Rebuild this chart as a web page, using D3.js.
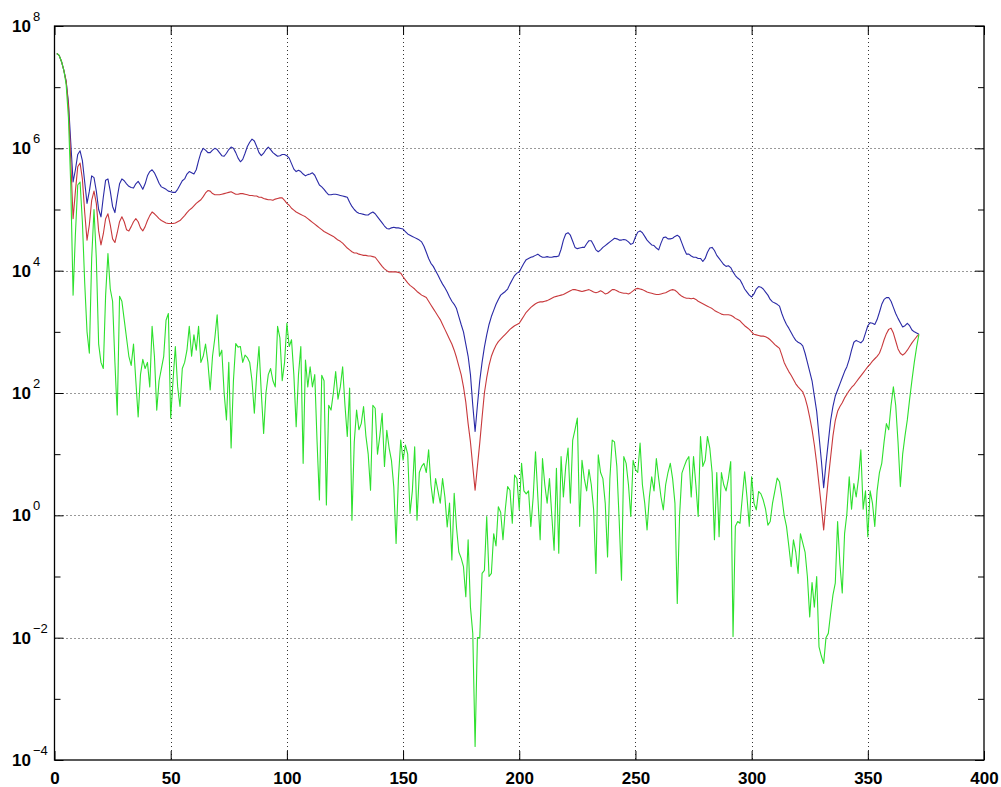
<!DOCTYPE html>
<html>
<head>
<meta charset="utf-8">
<script src="https://cdn.jsdelivr.net/npm/d3@7"></script>
<style>
  body { margin: 0; background: #fff; }
  text { font-family: "Liberation Sans", Arial, sans-serif; }
</style>
</head>
<body>
<div id="chart"></div>
<script>
var W = 1001, H = 787;

// tick values
var xTicks = [0, 50, 100, 150, 200, 250, 300, 350, 400];
var yDecades = [-4, -3, -2, -1, 0, 1, 2, 3, 4, 5, 6, 7, 8];
var yLabelled = [-4, -2, 0, 2, 4, 6, 8];

// series, as log10 of the value, one point per sample (x = 1, 2, 3 ...)
var blueExp = [
  7.55,7.52,7.42,7.28,7.1,6.75,6.1,5.45,5.65,5.9,
  5.96,5.8,5.45,5.1,5.3,5.55,5.52,5.3,5.0,4.88,
  5.2,5.48,5.5,5.3,5.05,4.95,5.2,5.42,5.5,5.47,
  5.42,5.38,5.36,5.35,5.42,5.46,5.4,5.33,5.42,5.55,
  5.62,5.65,5.6,5.52,5.43,5.37,5.35,5.33,5.3,5.29,
  5.28,5.28,5.33,5.4,5.47,5.5,5.58,5.62,5.6,5.58,
  5.65,5.8,5.93,6.0,5.97,5.93,5.93,5.97,6.0,5.98,
  5.93,5.88,5.87,5.92,5.98,6.02,6.0,5.93,5.84,5.78,
  5.82,5.92,6.03,6.1,6.15,6.12,6.03,5.93,5.88,5.92,
  5.98,6.02,5.98,5.93,5.9,5.87,5.88,5.9,5.9,5.88,
  5.84,5.75,5.66,5.62,5.64,5.62,5.58,5.55,5.57,5.58,
  5.6,5.56,5.48,5.4,5.37,5.33,5.28,5.24,5.24,5.25,
  5.25,5.24,5.23,5.22,5.21,5.2,5.12,5.05,5.0,4.96,
  4.94,4.93,4.92,4.91,4.91,4.94,4.96,4.93,4.88,4.83,
  4.78,4.73,4.69,4.68,4.7,4.71,4.7,4.7,4.69,4.68,
  4.64,4.6,4.58,4.56,4.54,4.52,4.5,4.47,4.4,4.3,
  4.2,4.12,4.07,4.0,3.93,3.85,3.78,3.72,3.65,3.57,
  3.5,3.45,3.38,3.25,3.12,3.0,2.8,2.6,2.3,1.8,
  1.37,1.8,2.2,2.5,2.75,2.95,3.12,3.25,3.35,3.45,
  3.53,3.6,3.63,3.66,3.7,3.78,3.85,3.92,3.96,3.98,
  4.05,4.12,4.18,4.2,4.22,4.23,4.25,4.27,4.24,4.22,
  4.22,4.23,4.22,4.22,4.23,4.23,4.24,4.35,4.5,4.6,
  4.62,4.58,4.48,4.38,4.36,4.37,4.38,4.38,4.44,4.49,
  4.49,4.42,4.34,4.31,4.34,4.38,4.41,4.44,4.47,4.5,
  4.53,4.52,4.5,4.5,4.51,4.5,4.47,4.43,4.45,4.55,
  4.63,4.65,4.62,4.56,4.5,4.46,4.42,4.41,4.37,4.34,
  4.45,4.54,4.55,4.52,4.52,4.53,4.56,4.58,4.55,4.45,
  4.35,4.27,4.27,4.24,4.22,4.22,4.2,4.2,4.15,4.2,
  4.3,4.37,4.38,4.33,4.25,4.2,4.15,4.1,4.07,4.08,
  4.05,3.98,3.92,3.88,3.85,3.78,3.7,3.65,3.6,3.57,
  3.62,3.7,3.74,3.73,3.7,3.65,3.6,3.53,3.49,3.47,
  3.45,3.42,3.3,3.2,3.12,3.06,2.99,2.92,2.86,2.83,
  2.81,2.77,2.65,2.5,2.35,2.2,1.95,1.7,1.3,0.9,
  0.45,0.85,1.2,1.55,1.78,1.95,2.05,2.15,2.25,2.35,
  2.43,2.55,2.7,2.83,2.86,2.84,2.82,2.86,2.98,3.1,
  3.15,3.14,3.12,3.2,3.32,3.45,3.53,3.56,3.56,3.5,
  3.4,3.3,3.22,3.15,3.08,3.1,3.14,3.1,3.03,3.0,
  2.98,2.96
];

var redExp = [
  7.55,7.52,7.42,7.28,7.1,6.7,5.8,4.85,5.3,5.7,
  5.76,5.5,4.95,4.5,4.75,5.15,5.3,5.1,4.65,4.42,
  4.6,4.85,4.93,4.75,4.52,4.46,4.62,4.8,4.88,4.8,
  4.67,4.65,4.72,4.8,4.85,4.8,4.7,4.65,4.72,4.82,
  4.9,4.96,4.93,4.89,4.85,4.82,4.8,4.78,4.77,4.77,
  4.77,4.78,4.8,4.82,4.86,4.9,4.95,4.99,5.02,5.06,
  5.1,5.13,5.16,5.21,5.27,5.31,5.3,5.26,5.24,5.24,
  5.24,5.25,5.26,5.27,5.28,5.29,5.27,5.25,5.25,5.26,
  5.26,5.25,5.24,5.23,5.23,5.22,5.22,5.2,5.2,5.18,
  5.17,5.16,5.16,5.15,5.17,5.18,5.19,5.19,5.15,5.1,
  5.07,5.02,4.99,4.96,4.94,4.92,4.9,4.88,4.85,4.82,
  4.79,4.76,4.73,4.7,4.67,4.64,4.62,4.6,4.58,4.56,
  4.53,4.5,4.48,4.45,4.41,4.37,4.34,4.31,4.29,4.29,
  4.27,4.26,4.25,4.25,4.24,4.24,4.23,4.22,4.17,4.12,
  4.07,4.03,4.0,3.98,3.98,3.98,3.98,3.97,3.96,3.9,
  3.85,3.8,3.76,3.73,3.7,3.66,3.63,3.6,3.58,3.56,
  3.5,3.44,3.38,3.32,3.26,3.2,3.12,3.04,2.96,2.88,
  2.8,2.7,2.58,2.44,2.3,2.1,1.85,1.5,1.2,0.8,
  0.41,0.8,1.18,1.6,2.0,2.25,2.45,2.6,2.7,2.78,
  2.84,2.88,2.92,2.96,3.0,3.04,3.07,3.1,3.12,3.14,
  3.2,3.26,3.32,3.36,3.4,3.43,3.46,3.48,3.49,3.49,
  3.5,3.51,3.53,3.55,3.57,3.58,3.59,3.6,3.61,3.63,
  3.65,3.67,3.69,3.69,3.68,3.67,3.66,3.67,3.68,3.69,
  3.67,3.65,3.64,3.65,3.67,3.65,3.62,3.63,3.66,3.69,
  3.69,3.67,3.65,3.64,3.63,3.63,3.62,3.64,3.67,3.7,
  3.71,3.7,3.69,3.67,3.65,3.64,3.63,3.62,3.61,3.61,
  3.62,3.63,3.64,3.66,3.68,3.69,3.68,3.65,3.61,3.58,
  3.56,3.55,3.55,3.54,3.55,3.53,3.5,3.48,3.46,3.44,
  3.42,3.4,3.38,3.35,3.33,3.31,3.29,3.28,3.28,3.28,
  3.27,3.25,3.22,3.2,3.18,3.14,3.1,3.07,3.04,3.0,
  2.96,2.95,2.94,2.93,2.93,2.92,2.9,2.87,2.83,2.79,
  2.76,2.73,2.62,2.5,2.42,2.35,2.29,2.22,2.15,2.1,
  2.06,2.02,1.92,1.78,1.6,1.4,1.15,0.85,0.5,0.15,
  -0.24,0.2,0.6,0.95,1.3,1.55,1.7,1.78,1.84,1.92,
  1.98,2.04,2.09,2.13,2.18,2.23,2.28,2.33,2.38,2.43,
  2.47,2.52,2.56,2.6,2.65,2.75,2.87,2.97,3.04,3.06,
  2.98,2.85,2.72,2.65,2.62,2.65,2.7,2.76,2.82,2.87,
  2.92,2.96
];

var greenExp = [
  7.55,7.52,7.42,7.28,7.05,6.5,5.4,3.6,4.6,5.4,
  5.45,4.8,3.8,3.0,2.65,4.2,5.0,4.2,2.8,2.5,
  2.4,3.6,4.28,3.7,3.5,2.5,1.64,3.58,3.5,3.2,
  2.9,2.6,2.45,2.8,2.2,1.61,2.3,2.55,2.4,2.5,
  2.1,3.09,2.6,1.72,2.2,2.4,2.6,3.19,3.3,1.59,
  2.2,2.76,2.1,1.78,2.4,2.5,2.7,3.09,2.6,2.95,
  2.7,3.09,2.5,2.6,2.8,2.5,2.05,2.6,2.9,3.28,
  2.6,2.7,2.0,1.56,2.5,1.1,2.2,2.81,2.75,2.76,
  2.5,2.62,2.58,2.5,2.2,1.67,2.3,2.76,2.0,1.34,
  2.0,2.3,2.4,2.2,2.1,3.09,2.9,2.2,2.5,3.14,
  2.76,2.87,2.3,1.45,2.3,2.76,0.85,2.54,2.1,2.43,
  2.1,2.3,1.2,0.25,2.29,2.2,0.17,1.8,1.72,2.0,
  2.35,1.9,2.1,2.43,1.8,1.29,2.08,-0.08,1.2,1.72,
  1.4,1.5,1.78,1.3,1.0,0.41,1.8,1.75,1.0,1.3,
  1.67,0.8,1.39,1.1,0.9,0.47,-0.46,0.6,1.23,0.9,
  1.15,1.0,0.03,0.4,1.12,-0.08,0.7,0.8,0.85,0.7,
  1.07,0.5,0.2,0.6,0.4,0.2,0.6,0.3,-0.19,0.2,
  -0.73,0.36,-0.2,-0.6,-0.7,-0.84,-1.33,-0.4,-1.5,-1.93,
  -3.78,-2.0,-2.0,-0.95,-0.9,-0.02,-1.0,-0.95,-0.3,-0.5,
  0.14,0.05,-0.4,0.1,0.47,0.41,-0.13,0.66,0.6,0.09,
  0.85,0.4,0.35,0.4,-0.18,0.3,1.04,0.3,-0.4,0.93,
  0.5,0.2,0.6,0.0,-0.57,0.77,-0.62,0.96,0.3,0.8,
  1.1,0.2,1.23,1.4,1.59,-0.18,0.9,0.6,0.4,0.75,
  0.5,0.1,-0.95,0.99,0.7,0.6,0.2,-0.68,0.6,1.23,
  1.2,0.8,-0.08,-1.06,0.96,0.85,0.5,-0.02,0.9,0.75,
  0.7,1.18,0.5,0.2,-0.24,0.3,0.63,0.4,0.93,0.6,
  0.3,0.09,0.5,0.7,0.85,0.6,0.2,-1.44,0.0,0.69,
  0.8,0.9,0.96,0.3,0.96,0.5,-0.02,1.29,0.8,0.9,
  1.29,1.1,0.7,-0.4,0.7,-0.35,0.7,0.5,0.4,0.6,
  0.88,-1.98,-0.18,-0.1,-0.13,0.3,0.71,0.3,-0.18,0.63,
  0.2,0.09,0.39,0.35,0.25,0.1,-0.16,-0.1,0.2,0.4,
  0.61,0.55,0.3,0.0,-0.18,-0.5,-0.84,-0.4,-0.6,-0.95,
  -0.3,-0.45,-0.6,-1.0,-1.66,-1.1,-1.5,-1.0,-2.15,-2.3,
  -2.42,-2.0,-1.93,-1.6,-1.3,-1.11,-0.1,-0.8,-1.27,-0.3,
  0.03,0.63,0.1,0.52,0.3,0.6,1.07,0.1,0.4,-0.35,
  0.4,0.2,-0.18,0.4,0.7,0.85,1.2,1.5,1.4,1.8,
  2.1,1.8,1.2,0.47,1.0,1.3,1.56,1.9,2.21,2.5,
  2.75,2.96
];

var seriesColors = ["#2a2aa6", "#c8393c", "#2ee02e"];

// plot box
var boxL = 54.5, boxR = 984, boxT = 26, boxB = 760;

var svg = d3.select("#chart")
    .append("svg")
    .attr("width", W)
    .attr("height", H)
    .style("display", "block")
    .style("background", "#fff");

var x = d3.scaleLinear()
    .domain([0, 400])
    .range([boxL, boxR]);

var y = d3.scaleLog()
    .domain([1e-4, 1e8])
    .range([boxB, boxT]);

// dotted grid at labelled ticks (not on the box edges)
var grid = svg.append("g")
    .attr("stroke", "#333")
    .attr("stroke-width", 1)
    .attr("stroke-dasharray", "1,3");

grid.selectAll(".vg")
    .data(xTicks.slice(1, -1))
    .enter()
    .append("line")
        .attr("x1", function(d){ return Math.round(x(d)) + 0.5 })
        .attr("x2", function(d){ return Math.round(x(d)) + 0.5 })
        .attr("y1", boxT)
        .attr("y2", boxB);

grid.selectAll(".hg")
    .data(yLabelled.slice(1, -1))
    .enter()
    .append("line")
        .attr("x1", boxL)
        .attr("x2", boxR)
        .attr("y1", function(d){ return Math.round(y(Math.pow(10, d))) + 0.5 })
        .attr("y2", function(d){ return Math.round(y(Math.pow(10, d))) + 0.5 });

// series lines
var line = d3.line()
    .x(function(d, i){ return x(i + 1) })
    .y(function(d){ return y(Math.pow(10, d)) });

[blueExp, redExp, greenExp].forEach(function(s, k){
    svg.append("path")
        .datum(s)
        .attr("fill", "none")
        .attr("stroke", seriesColors[k])
        .attr("stroke-width", 1.1)
        .attr("stroke-linejoin", "round")
        .attr("d", line);
});

// axes with ticks pointing inward on all four sides
var yMajorVals = yLabelled.map(function(e){ return Math.pow(10, e) });
var yMinorVals = yDecades.filter(function(e){ return yLabelled.indexOf(e) < 0 })
    .map(function(e){ return Math.pow(10, e) });

svg.append("g")
    .attr("transform", "translate(0," + boxB + ")")
    .call(d3.axisBottom(x).tickValues(xTicks).tickSize(-9).tickPadding(12))
    .call(function(g){
        g.select(".domain").remove();
        g.selectAll("text")
            .attr("font-size", 17)
            .attr("font-weight", "bold")
            .attr("font-family", "Liberation Sans, Arial, sans-serif")
            .attr("fill", "#000");
    });

svg.append("g")
    .attr("transform", "translate(0," + boxT + ")")
    .call(d3.axisTop(x).tickValues(xTicks).tickSize(-9).tickFormat(""))
    .call(function(g){ g.select(".domain").remove(); });

[[yMajorVals, 9], [yMinorVals, 6]].forEach(function(t){
    svg.append("g")
        .attr("transform", "translate(" + boxL + ",0)")
        .call(d3.axisLeft(y).tickValues(t[0]).tickSize(-t[1]).tickFormat(""))
        .call(function(g){ g.select(".domain").remove(); });
    svg.append("g")
        .attr("transform", "translate(" + boxR + ",0)")
        .call(d3.axisRight(y).tickValues(t[0]).tickSize(-t[1]).tickFormat(""))
        .call(function(g){ g.select(".domain").remove(); });
});

svg.selectAll(".tick line")
    .attr("stroke", "#000")
    .attr("stroke-width", 1);

// y labels: 10 with raised exponent
var yl = svg.append("g");
yLabelled.forEach(function(e){
    var yy = y(Math.pow(10, e));
    yl.append("text")
        .attr("x", 31)
        .attr("y", yy + 6)
        .attr("text-anchor", "end")
        .attr("font-size", 17)
        .attr("font-weight", "bold")
        .text("10");
    yl.append("text")
        .attr("x", 33)
        .attr("y", yy - 5)
        .attr("font-size", 13)
        .text(e < 0 ? "\u2212" + (-e) : String(e));
});

// box
svg.append("rect")
    .attr("x", boxL)
    .attr("y", boxT)
    .attr("width", boxR - boxL)
    .attr("height", boxB - boxT)
    .attr("fill", "none")
    .attr("stroke", "#000")
    .attr("stroke-width", 1.3);
</script>
</body>
</html>
